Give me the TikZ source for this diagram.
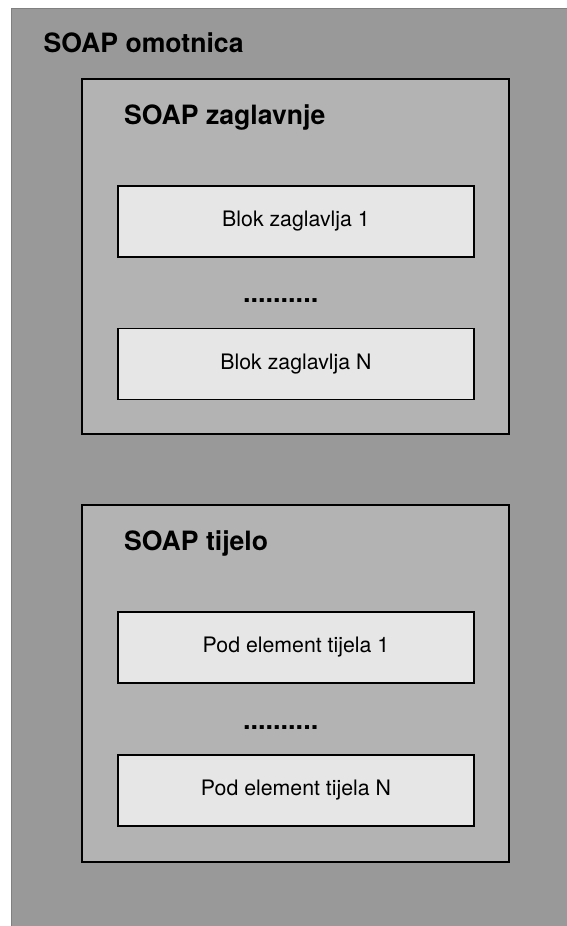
\documentclass[tikz,border=0pt]{standalone}
\usepackage{fontspec}
\setmainfont{TeX Gyre Heros}
\usepackage{tikz}

\definecolor{envgray}{HTML}{999999}
\definecolor{partgray}{HTML}{B3B3B3}
\definecolor{itemgray}{HTML}{E6E6E6}

\tikzset{
  part/.style={draw=black, line width=1.5pt, fill=partgray},
  item/.style={draw=black, line width=1.4pt, fill=itemgray, minimum width=356pt, minimum height=71pt,
    inner sep=0pt, font=\fontsize{21.3}{25}\selectfont},
  title/.style={anchor=base west, inner sep=0pt, font=\fontsize{26.6}{31}\selectfont\bfseries},
  dots/.style={anchor=base west, inner sep=0pt, font=\fontsize{27}{31}\selectfont\bfseries}
}

\begin{document}
\begin{tikzpicture}[x=1pt,y=1pt,yscale=-1,xscale=1]
\clip (0,0) rectangle (567,926);
\fill [white] (0,0) rectangle (567,926);

%Shape: Rectangle (envelope)
\draw [draw={rgb,255:red,128;green,128;blue,128}, line width=1pt, fill=envgray] (11,8) rectangle (580,940);
% Text Node
\node (envtitle) [title] at (43.5,52.5) {SOAP omotnica};

%Shape: Rectangle (header)
\draw [part] (82,79) rectangle (509,434);
% Text Node
\node (hdrtitle) [title] at (124,124) {SOAP zaglavnje};
\node (hdrfirst) [item] at (296,221.5) {Blok zaglavlja 1};
\node (hdrdots) [dots] at (243,302.5) {..........};
\node (hdrlast) [item] at (296,364) {Blok zaglavlja N};

%Shape: Rectangle (body)
\draw [part] (82,505) rectangle (509,862);
% Text Node
\node (bodytitle) [title] at (124,550) {SOAP tijelo};
\node (bodyfirst) [item] at (296,647.5) {Pod element tijela 1};
\node (bodydots) [dots] at (243,729.5) {..........};
\node (bodylast) [item] at (296,790.5) {Pod element tijela N};

\end{tikzpicture}
\end{document}
